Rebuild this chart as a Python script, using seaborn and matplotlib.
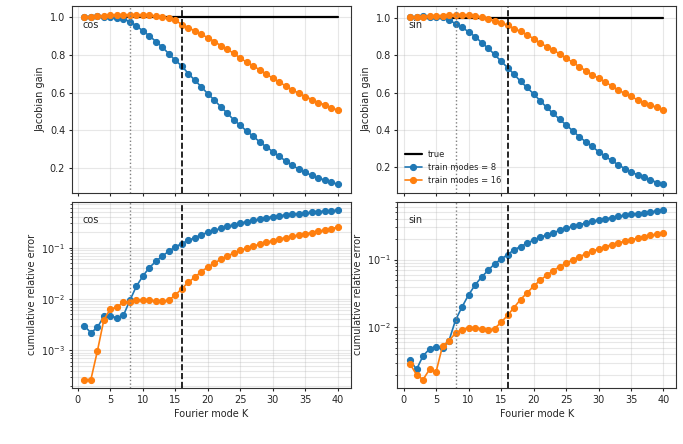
import matplotlib
matplotlib.use('Agg')
import matplotlib.pyplot as plt
import seaborn as sns

# data
K = list(range(1, 41))
true_gain = [1.0] * 40

gain_cos_8 = [1.0, 1.002, 1.003, 1.0, 1.0, 0.997, 0.99, 0.975, 0.953, 0.926,
              0.9, 0.87, 0.84, 0.805, 0.77, 0.74, 0.70, 0.665, 0.63, 0.593,
              0.56, 0.524, 0.49, 0.455, 0.426, 0.395, 0.368, 0.338, 0.312, 0.287,
              0.262, 0.237, 0.214, 0.195, 0.177, 0.161, 0.147, 0.137, 0.124, 0.115]
gain_cos_16 = [1.0, 1.0, 1.004, 1.004, 1.009, 1.01, 1.012, 1.01, 1.012, 1.01,
               1.009, 1.004, 1.0, 0.993, 0.982, 0.96, 0.943, 0.926, 0.908, 0.89,
               0.87, 0.848, 0.828, 0.807, 0.782, 0.76, 0.74, 0.72, 0.697, 0.676,
               0.655, 0.634, 0.614, 0.596, 0.579, 0.563, 0.547, 0.535, 0.52, 0.506]
gain_sin_8 = [1.004, 1.004, 1.008, 1.006, 1.006, 1.003, 0.99, 0.968, 0.95, 0.925,
              0.9, 0.868, 0.838, 0.804, 0.768, 0.734, 0.698, 0.66, 0.627, 0.593,
              0.557, 0.521, 0.489, 0.457, 0.427, 0.396, 0.364, 0.337, 0.311, 0.284,
              0.259, 0.236, 0.214, 0.193, 0.175, 0.159, 0.145, 0.132, 0.118, 0.109]
gain_sin_16 = [1.004, 1.004, 1.007, 1.011, 1.011, 1.012, 1.014, 1.014, 1.017, 1.014,
               1.011, 1.004, 0.996, 0.982, 0.971, 0.961, 0.943, 0.927, 0.909, 0.889,
               0.866, 0.846, 0.829, 0.807, 0.784, 0.763, 0.739, 0.718, 0.696, 0.677,
               0.657, 0.636, 0.614, 0.596, 0.579, 0.561, 0.546, 0.532, 0.52, 0.505]

err_cos_8 = [3.0e-3, 2.2e-3, 2.8e-3, 4.6e-3, 4.7e-3, 4.3e-3, 4.8e-3, 9.4e-3, 1.77e-2, 2.8e-2,
             4.1e-2, 5.4e-2, 6.9e-2, 8.5e-2, 0.104, 0.12, 0.139, 0.156, 0.179, 0.199,
             0.217, 0.237, 0.259, 0.28, 0.301, 0.32, 0.34, 0.36, 0.384, 0.401,
             0.42, 0.43, 0.444, 0.458, 0.471, 0.486, 0.501, 0.515, 0.525, 0.539]
err_cos_16 = [2.7e-4, 2.7e-4, 9.7e-4, 3.95e-3, 6.4e-3, 6.9e-3, 8.7e-3, 8.9e-3, 9.6e-3, 9.5e-3,
              9.4e-3, 9.2e-3, 9.0e-3, 9.5e-3, 1.2e-2, 1.59e-2, 2.11e-2, 2.68e-2, 3.41e-2, 4.2e-2,
              5.02e-2, 5.91e-2, 6.87e-2, 7.85e-2, 8.86e-2, 9.82e-2, 0.107, 0.117, 0.127, 0.137,
              0.147, 0.157, 0.166, 0.176, 0.187, 0.196, 0.208, 0.22, 0.234, 0.251]
err_sin_8 = [3.3e-3, 2.4e-3, 3.8e-3, 4.8e-3, 5.2e-3, 4.9e-3, 6.4e-3, 1.28e-2, 2.0e-2, 3.0e-2,
             4.2e-2, 5.5e-2, 6.9e-2, 8.6e-2, 0.101, 0.118, 0.139, 0.155, 0.173, 0.194,
             0.212, 0.23, 0.248, 0.268, 0.287, 0.307, 0.325, 0.344, 0.364, 0.381,
             0.398, 0.412, 0.431, 0.446, 0.461, 0.476, 0.488, 0.505, 0.516, 0.535]
err_sin_16 = [2.9e-3, 2.0e-3, 1.7e-3, 2.4e-3, 2.2e-3, 5.3e-3, 6.4e-3, 8.2e-3, 9.3e-3, 9.9e-3,
              9.9e-3, 9.5e-3, 9.1e-3, 9.6e-3, 1.18e-2, 1.5e-2, 1.96e-2, 2.57e-2, 3.21e-2, 4.03e-2,
              4.93e-2, 5.83e-2, 6.83e-2, 7.8e-2, 8.8e-2, 9.9e-2, 0.109, 0.121, 0.132, 0.143,
              0.153, 0.166, 0.176, 0.185, 0.196, 0.205, 0.217, 0.227, 0.235, 0.246]

sns.set_style('ticks')
plt.rcParams['font.size'] = 7
plt.rcParams['font.family'] = ['DejaVu Sans']
plt.rcParams['xtick.major.size'] = 2.5
plt.rcParams['ytick.major.size'] = 2.5
plt.rcParams['ytick.minor.size'] = 1.5
plt.rcParams['xtick.major.pad'] = 2.2
plt.rcParams['ytick.major.pad'] = 2.2
plt.rcParams['axes.labelpad'] = 3

blue = '#1f77b4'
orange = '#ff7f0e'

fig, axes = plt.subplots(2, 2, figsize=(6.83, 4.44), dpi=100, sharex=True)
fig.subplots_adjust(left=0.105, right=0.99, top=0.986, bottom=0.126,
                    wspace=0.168, hspace=0.048)

panels = [('cos', gain_cos_8, gain_cos_16, err_cos_8, err_cos_16),
          ('sin', gain_sin_8, gain_sin_16, err_sin_8, err_sin_16)]

for col, (name, g8, g16, e8, e16) in enumerate(panels):
    # top row: Jacobian gain
    ax = axes[0, col]
    sns.lineplot(x=K, y=true_gain, color='k', lw=1.6, label='true', ax=ax)
    sns.lineplot(x=K, y=g8, color=blue, lw=1.2, marker='o', ms=4.4, mec=blue,
                 label='train modes = 8', ax=ax)
    sns.lineplot(x=K, y=g16, color=orange, lw=1.2, marker='o', ms=4.4, mec=orange,
                 label='train modes = 16', ax=ax)
    ax.set_ylabel('Jacobian gain')
    ax.set_yticks([0.2, 0.4, 0.6, 0.8, 1.0])
    ax.grid(True, which='major', color='#b0b0b0', alpha=0.3, lw=0.8)

    # bottom row: cumulative relative error
    bx = axes[1, col]
    sns.lineplot(x=K, y=e8, color=blue, lw=1.2, marker='o', ms=4.4, mec=blue, ax=bx)
    sns.lineplot(x=K, y=e16, color=orange, lw=1.2, marker='o', ms=4.4, mec=orange, ax=bx)
    bx.set_yscale('log')
    bx.set_ylabel('cumulative relative error')
    bx.set_xlabel('Fourier mode K')
    bx.grid(True, which='both', color='#b0b0b0', alpha=0.3, lw=0.8)

    for a in (ax, bx):
        a.axvline(8, color='gray', ls=':', lw=1)
        a.axvline(16, color='k', ls='--', lw=1.2)
        a.text(0.04, 0.9, name, transform=a.transAxes, va='center', fontsize=7)
        for s in a.spines.values():
            s.set_visible(True)
            s.set_color('.2')

axes[1, 0].set_xticks(range(0, 41, 5))
axes[0, 0].get_legend().remove()
axes[0, 1].legend(loc='lower left', frameon=False, fontsize=6)

fig.savefig('out.png', dpi=100)
